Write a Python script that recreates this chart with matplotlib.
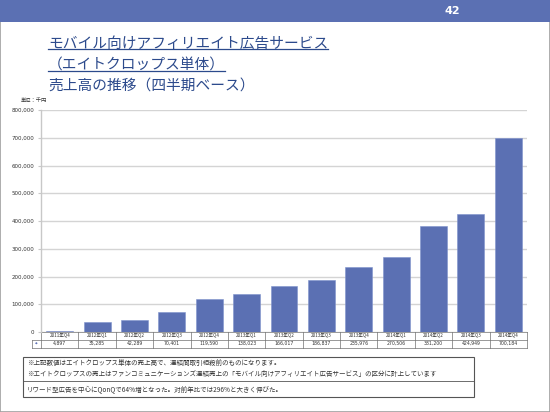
import matplotlib
matplotlib.use("Agg")
import matplotlib.pyplot as plt
import matplotlib.transforms as mtrans
from matplotlib.patches import Rectangle
from matplotlib.lines import Line2D

plt.rcParams['font.family'] = ['Noto Sans CJK JP', 'DejaVu Sans']

# data (thousand yen)
quarters = ["2011年Q4", "2012年Q1", "2012年Q2", "2012年Q3", "2012年Q4",
            "2013年Q1", "2013年Q2", "2013年Q3", "2013年Q4",
            "2014年Q1", "2014年Q2", "2014年Q3", "2014年Q4"]
sales = [4897, 35285, 42289, 70401, 119590, 138023, 166017,
         186837, 235976, 270506, 381200, 424949, 700184]
yticks = [0, 100000, 200000, 300000, 400000, 500000, 600000, 700000, 800000]

title_lines = ["モバイル向けアフィリエイト広告サービス",
               "（エイトクロップス単体）",
               "売上高の推移（四半期ベース）"]
notes = ["※上記数値はエイトクロップス単体の売上高で、連結間取引相殺前のものになります。",
         "※エイトクロップスの売上はファンコミュニケーションズ連結売上の「モバイル向けアフィリエイト広告サービス」の区分に計上しています"]
comment = "リワード型広告を中心にQonQで64%増となった。対前年比では296%と大きく伸びた。"

W, H = 550, 412
blue = '#5b70b3'
title_col = '#2c4a8c'

fig = plt.figure(figsize=(W / 100, H / 100), dpi=100)
fig.patch.set_facecolor('white')

def px(x, y):
    # pixel (from top-left) -> figure fraction
    return x / W, 1 - y / H

# slide frame and header band
fig.patches.append(Rectangle((0, 0), 1, 1, transform=fig.transFigure,
                             fill=False, edgecolor='#a0a0a0', lw=1.2))
fig.patches.append(Rectangle(px(0, 22), 1, 22 / H, transform=fig.transFigure,
                             facecolor=blue, edgecolor='none'))
fig.text(*px(452, 11.5), "42", color='white', fontsize=8, fontweight='bold',
         ha='center', va='center', family='DejaVu Sans')

# title
title_objs = []
for i, line in enumerate(title_lines):
    t = fig.text(*px(48, 44 + i * 21.5), line, color=title_col, fontsize=10.6,
                 ha='left', va='center')
    title_objs.append(t)

fig.text(*px(21, 101), "単位：千円", fontsize=3.8, ha='left', va='center', color='#333333')

# chart
x0, x1, ytop, ybot = 41, 527, 110, 332
ax = fig.add_axes([x0 / W, 1 - ybot / H, (x1 - x0) / W, (ybot - ytop) / H])
xs = list(range(len(quarters)))
ax.bar(xs, sales, width=0.72, color=blue, edgecolor='#7f92cc', linewidth=0.4, zorder=3)
ax.set_xlim(-0.5, len(quarters) - 0.5)
ax.set_ylim(0, 800000)
ax.set_yticks(yticks)
ax.set_yticklabels([f"{v:,}" for v in yticks], fontsize=4, color='#333333',
                   family='DejaVu Sans')
ax.set_xticks([])
ax.grid(axis='y', color='#d4d4d4', lw=1.0, zorder=0)
ax.tick_params(axis='y', length=2, width=0.8, color='#c8c8c8', pad=3)
for s in ['top', 'right', 'bottom']:
    ax.spines[s].set_visible(False)
ax.spines['left'].set_color('#c8c8c8')
ax.spines['left'].set_linewidth(1.0)

# data table below the axis
hpx = ybot - ytop
r1 = -7.5 / hpx
r2 = -15.5 / hpx
colw = (x1 - x0) / len(quarters)
mk = -0.5 - 9 / colw
trans = mtrans.blended_transform_factory(ax.transData, ax.transAxes)
lkw = dict(transform=trans, color='#707070', lw=0.5, clip_on=False)
ax.add_line(Line2D([-0.5, len(quarters) - 0.5], [0, 0], **lkw))
ax.add_line(Line2D([mk, len(quarters) - 0.5], [r1, r1], **lkw))
ax.add_line(Line2D([mk, len(quarters) - 0.5], [r2, r2], **lkw))
ax.add_line(Line2D([mk, mk], [r1, r2], **lkw))
for i in range(len(quarters) + 1):
    ax.add_line(Line2D([i - 0.5, i - 0.5], [0, r2], **lkw))
for i, (q, v) in enumerate(zip(quarters, sales)):
    ax.text(i, r1 / 2, q, transform=trans, fontsize=3.3, ha='center', va='center',
            color='#333333')
    ax.text(i, (r1 + r2) / 2, f"{v:,}", transform=trans, fontsize=3.3,
            ha='center', va='center', color='#333333', family='DejaVu Sans')
ax.text((mk - 0.5) / 2, (r1 + r2) / 2, "◆", transform=trans, fontsize=2.5,
        ha='center', va='center', color=blue, family='DejaVu Sans')

# notes box
bx0, bx1, by0, bmid, by1 = 23, 474, 357, 381, 397
fig.patches.append(Rectangle(px(bx0, by1), (bx1 - bx0) / W, (by1 - by0) / H,
                             transform=fig.transFigure, fill=False,
                             edgecolor='#555555', lw=0.8))
fig.lines.append(Line2D([bx0 / W, bx1 / W], [1 - bmid / H] * 2,
                        transform=fig.transFigure, color='#555555', lw=0.6))
for i, n in enumerate(notes):
    fig.text(*px(27, 363 + i * 10.5), n, fontsize=4.7, ha='left', va='center',
             color='#333333')
fig.text(*px(27, 389), comment, fontsize=4.7, ha='left', va='center', color='#333333')

# underline first two title lines
fig.canvas.draw()
r = fig.canvas.get_renderer()
for t in title_objs[:2]:
    bb = t.get_window_extent(r)
    fig.lines.append(Line2D([bb.x0 / W, bb.x1 / W], [bb.y0 / H + 2 / H] * 2,
                            transform=fig.transFigure, color=title_col, lw=0.9))

fig.savefig("out.png", dpi=100)
